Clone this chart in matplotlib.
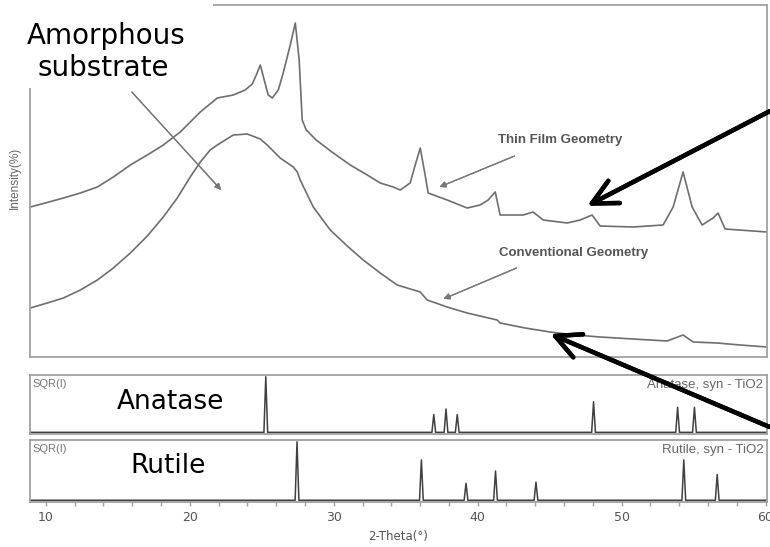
import matplotlib
matplotlib.use("Agg")
import matplotlib.pyplot as plt
from matplotlib.patches import Rectangle

# thin film geometry scan (2-theta, intensity in arbitrary units)
thin_tt = [8.92, 9.97, 11.22, 12.40, 13.58, 14.69, 15.87, 17.05, 18.16, 19.34,
           20.73, 21.91, 23.02, 23.85, 24.34, 24.62, 24.90, 25.17, 25.45, 25.73,
           26.15, 26.49, 26.98, 27.33, 27.60, 27.81, 28.09, 28.78, 29.97, 31.15,
           32.33, 33.23, 34.13, 34.62, 35.31, 35.66, 36.01, 36.35, 36.56, 37.88,
           39.27, 40.17, 40.73, 41.22, 41.56, 43.16, 43.85, 44.55, 46.22, 47.12,
           47.95, 48.51, 50.80, 52.88, 53.58, 54.27, 54.90, 55.59, 56.36, 56.70,
           57.19, 60.10]
thin_int = [150, 154, 159, 164, 170, 180, 192, 202, 212, 225,
            245, 259, 262, 267, 273, 282, 292, 277, 262, 259,
            267, 284, 312, 334, 297, 237, 227, 217, 204, 192,
            182, 174, 170, 167, 174, 192, 209, 182, 164, 157,
            149, 152, 157, 165, 142, 142, 145, 137, 134, 137,
            142, 131, 130, 132, 150, 185, 150, 132, 139, 144,
            128, 125]

# conventional geometry scan
conv_tt = [8.92, 10.10, 11.22, 12.40, 13.58, 14.69, 15.87, 17.05, 18.16, 19.13,
           20.03, 20.73, 21.42, 21.91, 23.02, 23.99, 24.90, 25.38, 26.28, 27.19,
           27.47, 27.67, 28.58, 29.76, 30.94, 32.05, 33.23, 34.41, 36.01, 36.49,
           37.88, 39.27, 41.35, 41.56, 43.30, 45.03, 46.77, 48.51, 50.80, 53.16,
           54.27, 54.97, 56.63, 58.23, 60.10]
conv_int = [49, 54, 59, 67, 77, 89, 104, 121, 140, 159,
            180, 195, 207, 212, 222, 223, 218, 212, 199, 190,
            185, 177, 150, 127, 111, 97, 84, 72, 65, 57,
            50, 44, 37, 34, 29, 25, 22, 20, 18, 16,
            22, 15, 14, 12, 10]

# reference patterns, SQR(I) normalised
anatase_pos = [25.28, 36.95, 37.80, 38.58, 48.05, 53.89, 55.06]
anatase_h = [1.0, 0.32, 0.42, 0.32, 0.55, 0.45, 0.45]
rutile_pos = [27.45, 36.09, 39.19, 41.24, 44.05, 54.32, 56.64]
rutile_h = [1.0, 0.69, 0.29, 0.50, 0.31, 0.69, 0.44]

xmin, xmax = 8.9, 60.1
spine_c = "#a0a0a0"
line_c = "#6e6e6e"

fig = plt.figure(figsize=(7.7, 5.47), dpi=100)
ax = fig.add_axes([30 / 770, 1 - 357 / 547, 737 / 770, 352 / 547])
ax_a = fig.add_axes([30 / 770, 1 - 434 / 547, 737 / 770, 59 / 547])
ax_r = fig.add_axes([30 / 770, 1 - 502 / 547, 737 / 770, 62 / 547])

ax.plot(thin_tt, thin_int, color=line_c, lw=1.2)
ax.plot(conv_tt, conv_int, color=line_c, lw=1.2)
ax.set_xlim(xmin, xmax)
ax.set_ylim(0, 352)
ax.set_xticks([])
ax.set_yticks([])


def sticks(a, pos, h, w=0.13):
    xs, ys = [xmin], [0]
    for p, v in zip(pos, h):
        xs += [p - w, p, p + w]
        ys += [0, v, 0]
    xs.append(xmax)
    ys.append(0)
    a.plot(xs, ys, color="#404040", lw=1.1)
    a.set_xlim(xmin, xmax)
    a.set_ylim(-0.03, 1.03)
    a.set_yticks([])


sticks(ax_a, anatase_pos, anatase_h)
sticks(ax_r, rutile_pos, rutile_h)
ax_a.set_xticks([])

ax_r.set_xticks([10, 20, 30, 40, 50, 60])
ax_r.set_xticks(range(12, 60, 2), minor=True)
ax_r.tick_params(axis="x", which="both", colors=spine_c, labelcolor="#555555",
                 labelsize=9, direction="out", length=3, width=1)
ax_r.set_xlabel("2-Theta(°)", fontsize=8.5, color="#555555", labelpad=4)

for a in (ax, ax_a, ax_r):
    for s in a.spines.values():
        s.set_color(spine_c)
        s.set_linewidth(1.3)

for a, name in ((ax_a, "Anatase, syn - TiO2"), (ax_r, "Rutile, syn - TiO2")):
    a.text(0.004, 0.93, "SQR(I)", transform=a.transAxes, fontsize=8,
           color="#777777", va="top", family="Liberation Sans")
    a.text(0.995, 0.93, name, transform=a.transAxes, fontsize=9.5,
           color="#666666", va="top", ha="right", family="Liberation Sans")

fig.text(15 / 770, 1 - 178 / 547, "Intensity(%)", rotation=90, fontsize=8.5,
         color="#666666", ha="center", va="center", family="Liberation Sans")

# labels inside the main panel
fig.text(560 / 770, 1 - 140 / 547, "Thin Film Geometry", fontsize=9.5,
         fontweight="bold", color="#555555", ha="center", va="center",
         family="Liberation Sans")
fig.text(574 / 770, 1 - 253 / 547, "Conventional Geometry", fontsize=9.5,
         fontweight="bold", color="#555555", ha="center", va="center",
         family="Liberation Sans")

gray_arrows = [((517, 155), (437, 188)), ((519, 267), (441, 300)),
               ((130, 90), (223, 192))]
for (x0, y0), (x1, y1) in gray_arrows:
    fig.add_artist(plt.annotate("", xy=(x1 / 770, 1 - y1 / 547), xycoords="figure fraction",
                                xytext=(x0 / 770, 1 - y0 / 547), textcoords="figure fraction",
                                arrowprops=dict(arrowstyle="-|>", color="#777777", lw=0.9,
                                                mutation_scale=9)))

black_arrows = [((772, 110), (585, 207)), ((772, 428), (548, 333))]
for (x0, y0), (x1, y1) in black_arrows:
    fig.add_artist(plt.annotate("", xy=(x1 / 770, 1 - y1 / 547), xycoords="figure fraction",
                                xytext=(x0 / 770, 1 - y0 / 547), textcoords="figure fraction",
                                arrowprops=dict(arrowstyle="->,head_length=0.9,head_width=0.45",
                                                color="black", lw=3.2, mutation_scale=20)))

# white box behind the handwritten-style callout
fig.add_artist(Rectangle((0, 1 - 88 / 547), 213 / 770, 88 / 547, transform=fig.transFigure,
                         facecolor="white", edgecolor="none", zorder=5))
fig.text(106 / 770, 1 - 36 / 547, "Amorphous", fontsize=20, ha="center", va="center", zorder=6)
fig.text(103 / 770, 1 - 68 / 547, "substrate", fontsize=20, ha="center", va="center", zorder=6)
fig.text(170 / 770, 1 - 402 / 547, "Anatase", fontsize=19, ha="center", va="center")
fig.text(168 / 770, 1 - 466 / 547, "Rutile", fontsize=19, ha="center", va="center")

fig.savefig("out.png", dpi=100)
